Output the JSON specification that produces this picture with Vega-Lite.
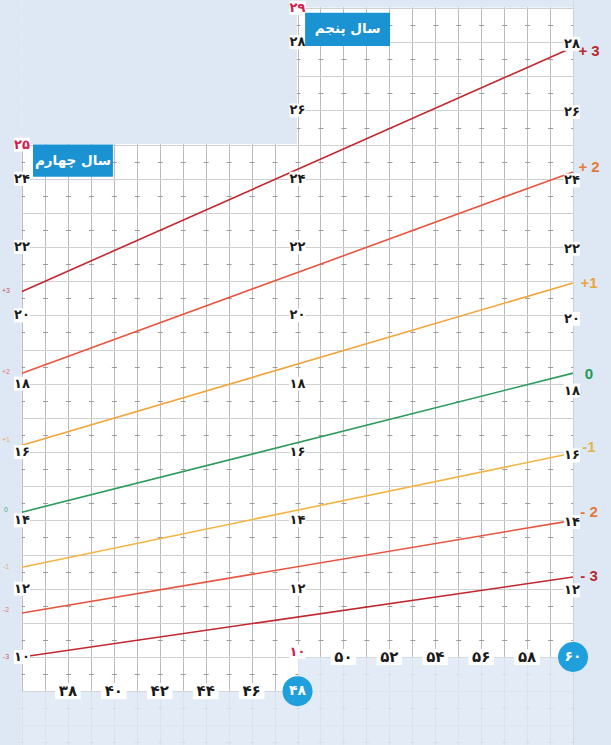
{
  "$schema": "https://vega.github.io/schema/vega-lite/v6.json",
  "width": 611,
  "height": 745,
  "autosize": "none",
  "padding": 0,
  "background": "#ffffff",
  "config": {"view": {"stroke": null}, "font": "DejaVu Sans"},
  "resolve": {"scale": {"color": "independent"}},
  "datasets": {
    "covers": [
      {"m": 34.5, "m2": 35.99, "v": 7, "v2": 30},
      {"m": 60.02, "m2": 62, "v": 7, "v2": 30},
      {"m": 35.99, "m2": 47.975, "v": 25.015, "v2": 30},
      {"m": 47.975, "m2": 60.02, "v": 29.015, "v2": 30}
    ],
    "bottom": [
      {"m": 35.99, "m2": 48.02, "v": 7, "v2": 8.985},
      {"m": 48.02, "m2": 60.02, "v": 7, "v2": 9.985}
    ],
    "zlines": [
      {"z": "+3", "m": 36, "v": 20.7}, {"z": "+3", "m": 60, "v": 27.85},
      {"z": "+2", "m": 36, "v": 18.31}, {"z": "+2", "m": 60, "v": 24.2},
      {"z": "+1", "m": 36, "v": 16.2}, {"z": "+1", "m": 60, "v": 20.95},
      {"z": "0", "m": 36, "v": 14.24}, {"z": "0", "m": 60, "v": 18.31},
      {"z": "-1", "m": 36, "v": 12.63}, {"z": "-1", "m": 60, "v": 15.97},
      {"z": "-2", "m": 36, "v": 11.29}, {"z": "-2", "m": 60, "v": 14.0},
      {"z": "-3", "m": 36, "v": 10.0}, {"z": "-3", "m": 60, "v": 12.34}
    ],
    "zlabR": [
      {"z": "+3", "t": "+ 3", "m": 60, "v": 27.73},
      {"z": "+2", "t": "+ 2", "m": 60, "v": 24.34},
      {"z": "+1", "t": "+1", "m": 60, "v": 20.95},
      {"z": "0", "t": "0", "m": 60, "v": 18.28},
      {"z": "-1", "t": "-1", "m": 60, "v": 16.15},
      {"z": "-2", "t": "- 2", "m": 60, "v": 14.24},
      {"z": "-3", "t": "- 3", "m": 60, "v": 12.37}
    ],
    "zlabL": [
      {"z": "+3", "t": "+3", "m": 35.3, "v": 20.71},
      {"z": "+2", "t": "+2", "m": 35.3, "v": 18.34},
      {"z": "+1", "t": "+1", "m": 35.3, "v": 16.35},
      {"z": "0", "t": "0", "m": 35.3, "v": 14.3},
      {"z": "-1", "t": "-1", "m": 35.3, "v": 12.63},
      {"z": "-2", "t": "-2", "m": 35.3, "v": 11.38},
      {"z": "-3", "t": "-3", "m": 35.3, "v": 10.0}
    ],
    "ylab": [
      {"m": 36, "v": 25, "t": "۲۵", "role": "limit"},
      {"m": 36, "v": 24, "t": "۲۴", "role": "tick"},
      {"m": 36, "v": 22, "t": "۲۲", "role": "tick"},
      {"m": 36, "v": 20, "t": "۲۰", "role": "tick"},
      {"m": 36, "v": 18, "t": "۱۸", "role": "tick"},
      {"m": 36, "v": 16, "t": "۱۶", "role": "tick"},
      {"m": 36, "v": 14, "t": "۱۴", "role": "tick"},
      {"m": 36, "v": 12, "t": "۱۲", "role": "tick"},
      {"m": 36, "v": 10, "t": "۱۰", "role": "tick"},
      {"m": 48, "v": 29, "t": "۲۹", "role": "limit"},
      {"m": 48, "v": 28, "t": "۲۸", "role": "tick"},
      {"m": 48, "v": 26, "t": "۲۶", "role": "tick"},
      {"m": 48, "v": 24, "t": "۲۴", "role": "tick"},
      {"m": 48, "v": 22, "t": "۲۲", "role": "tick"},
      {"m": 48, "v": 20, "t": "۲۰", "role": "tick"},
      {"m": 48, "v": 18, "t": "۱۸", "role": "tick"},
      {"m": 48, "v": 16, "t": "۱۶", "role": "tick"},
      {"m": 48, "v": 14, "t": "۱۴", "role": "tick"},
      {"m": 48, "v": 12, "t": "۱۲", "role": "tick"},
      {"m": 48, "v": 10.15, "t": "۱۰", "role": "limit"},
      {"m": 59.95, "v": 27.95, "t": "۲۸", "role": "tick"},
      {"m": 59.95, "v": 25.95, "t": "۲۶", "role": "tick"},
      {"m": 59.95, "v": 23.95, "t": "۲۴", "role": "tick"},
      {"m": 59.95, "v": 21.95, "t": "۲۲", "role": "tick"},
      {"m": 59.95, "v": 19.9, "t": "۲۰", "role": "tick"},
      {"m": 59.95, "v": 17.8, "t": "۱۸", "role": "tick"},
      {"m": 59.95, "v": 15.9, "t": "۱۶", "role": "tick"},
      {"m": 59.95, "v": 13.95, "t": "۱۴", "role": "tick"},
      {"m": 59.95, "v": 11.95, "t": "۱۲", "role": "tick"}
    ],
    "xlab": [
      {"m": 38, "v": 9, "t": "۳۸"},
      {"m": 40, "v": 9, "t": "۴۰"},
      {"m": 42, "v": 9, "t": "۴۲"},
      {"m": 44, "v": 9, "t": "۴۴"},
      {"m": 46, "v": 9, "t": "۴۶"},
      {"m": 50, "v": 10, "t": "۵۰"},
      {"m": 52, "v": 10, "t": "۵۲"},
      {"m": 54, "v": 10, "t": "۵۴"},
      {"m": 56, "v": 10, "t": "۵۶"},
      {"m": 58, "v": 10, "t": "۵۸"}
    ],
    "circles": [
      {"m": 48, "v": 9, "t": "۴۸"},
      {"m": 60, "v": 10, "t": "۶۰"}
    ],
    "titleBoxes": [
      {"m": 36.48, "m2": 39.96, "v": 24.06, "v2": 25.0},
      {"m": 48.33, "m2": 52.03, "v": 27.89, "v2": 28.86}
    ],
    "titleTexts": [
      {"m": 38.22, "v": 24.53, "t": "سال چهارم"},
      {"m": 50.18, "v": 28.38, "t": "سال پنجم"}
    ]
  },
  "encoding": {
    "x": {"field": "m", "type": "quantitative", "scale": {"domain": [35.042, 61.653], "nice": false, "zero": false},
      "axis": {"orient": "bottom", "values": [36,37,38,39,40,41,42,43,44,45,46,47,48,49,50,51,52,53,54,55,56,57,58,59,60],
        "grid": true, "gridColor": "#bcbcbc", "gridWidth": 1, "labels": false, "ticks": false, "domain": false, "title": null}},
    "y": {"field": "v", "type": "quantitative", "scale": {"domain": [7.424, 29.233], "nice": false, "zero": false},
      "axis": {"orient": "left", "values": [7.5,8,8.5,9,9.5,10,10.5,11,11.5,12,12.5,13,13.5,14,14.5,15,15.5,16,16.5,17,17.5,18,18.5,19,19.5,20,20.5,21,21.5,22,22.5,23,23.5,24,24.5,25,25.5,26,26.5,27,27.5,28,28.5,29],
        "grid": true, "labels": false, "ticks": false, "domain": false, "title": null, "gridWidth": 1,
        "gridColor": {"condition": {"test": "datum.value % 1 !== 0", "value": "#9c9c9c"}, "value": "#d0d0d0"},
        "gridDash": {"condition": {"test": "datum.value % 1 !== 0", "value": [5, 17.961]}, "value": []},
        "gridDashOffset": 3.461}}
  },
  "layer": [
    {
      "data": {"name": "covers"},
      "mark": {"type": "rect", "color": "#dde8f4"},
      "encoding": {"x2": {"field": "m2"}, "y2": {"field": "v2"}}
    },
    {
      "data": {"name": "bottom"},
      "mark": {"type": "rect", "color": "#dde8f4", "opacity": 0.86},
      "encoding": {"x2": {"field": "m2"}, "y2": {"field": "v2"}}
    },
    {
      "data": {"name": "zlines"},
      "mark": {"type": "line", "strokeWidth": 1.6},
      "encoding": {
        "color": {"field": "z", "type": "nominal", "legend": null,
          "scale": {"domain": ["+3","+2","+1","0","-1","-2","-3"], "range": ["#c0282e","#e8553f","#f2a43a","#2e9a5c","#f2b443","#e8553f","#c0282e"]}}
      }
    },
    {
      "data": {"name": "ylab"},
      "mark": {"type": "point", "filled": true, "shape": "M-1.15,-1L1.15,-1L1.15,1L-1.15,1Z", "size": 196, "color": "#ffffff", "opacity": 1},
      "encoding": {}
    },
    {
      "data": {"name": "xlab"},
      "mark": {"type": "point", "filled": true, "shape": "M-1.6,-1L1.6,-1L1.6,1L-1.6,1Z", "size": 256, "color": "#ffffff", "opacity": 1},
      "encoding": {}
    },
    {
      "data": {"name": "ylab"},
      "mark": {"type": "text", "fontSize": 13, "fontWeight": "bold", "align": "center", "baseline": "middle", "font": "DejaVu Sans"},
      "encoding": {
        "text": {"field": "t"},
        "color": {"field": "role", "type": "nominal", "legend": null, "scale": {"domain": ["tick", "limit"], "range": ["#1a1a1a", "#d3204f"]}}
      }
    },
    {
      "data": {"name": "xlab"},
      "mark": {"type": "text", "fontSize": 15, "fontWeight": "bold", "align": "center", "baseline": "middle", "font": "DejaVu Sans", "color": "#1a1a1a"},
      "encoding": {"text": {"field": "t"}}
    },
    {
      "data": {"name": "circles"},
      "mark": {"type": "point", "filled": true, "shape": "circle", "size": 900, "color": "#1fa0dc", "opacity": 1},
      "encoding": {}
    },
    {
      "data": {"name": "circles"},
      "mark": {"type": "text", "fontSize": 14, "fontWeight": "bold", "align": "center", "baseline": "middle", "font": "DejaVu Sans", "color": "#ffffff"},
      "encoding": {"text": {"field": "t"}}
    },
    {
      "data": {"name": "zlabR"},
      "mark": {"type": "text", "fontSize": 15, "fontWeight": "bold", "align": "center", "baseline": "middle", "font": "Liberation Sans", "dx": 16},
      "encoding": {
        "text": {"field": "t"},
        "color": {"field": "z", "type": "nominal", "legend": null,
          "scale": {"domain": ["+3","+2","+1","0","-1","-2","-3"], "range": ["#b8282e","#e47a3a","#eba53a","#1f9a55","#e2b545","#e47a3a","#b8282e"]}}
      }
    },
    {
      "data": {"name": "zlabL"},
      "mark": {"type": "text", "fontSize": 7, "align": "center", "baseline": "middle", "font": "Liberation Sans", "opacity": 0.75},
      "encoding": {
        "text": {"field": "t"},
        "color": {"field": "z", "type": "nominal", "legend": null,
          "scale": {"domain": ["+3","+2","+1","0","-1","-2","-3"], "range": ["#c0282e","#e8553f","#e0a030","#1f9a55","#e0a030","#e8553f","#c0282e"]}}
      }
    },
    {
      "data": {"name": "titleBoxes"},
      "mark": {"type": "rect", "color": "#1b92d1"},
      "encoding": {"x2": {"field": "m2"}, "y2": {"field": "v2"}}
    },
    {
      "data": {"name": "titleTexts"},
      "mark": {"type": "text", "fontSize": 13.5, "fontWeight": "bold", "align": "center", "baseline": "middle", "font": "DejaVu Sans", "color": "#ffffff"},
      "encoding": {"text": {"field": "t"}}
    }
  ]
}
